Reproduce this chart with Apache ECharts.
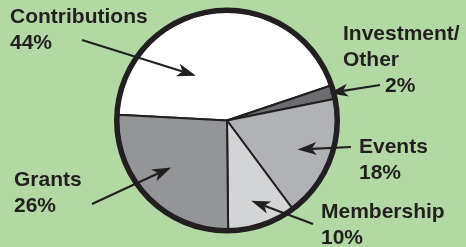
<!DOCTYPE html>
<html>
<head>
<meta charset="utf-8">
<script src="https://cdn.jsdelivr.net/npm/echarts@6/dist/echarts.min.js"></script>
<style>
  html, body { margin: 0; padding: 0; background: #b2d9a3; }
  #echarts { width: 466px; height: 247px; }
</style>
</head>
<body>
<div id="echarts"></div>
<script>
// data
var categories = ['Contributions', 'Investment/Other', 'Events', 'Membership', 'Grants'];
var percents = [44, 2, 18, 10, 26];
var sliceColors = ['#ffffff', '#6d6e71', '#b0b2b5', '#d3d4d6', '#939598'];

// layout of the callouts
var ink = '#231f20';
var cx = 227, cy = 120.5, r = 109;
var startAngle = 177;
var labelPos = [[10, 4], [343, 21], [359, 134], [321, 199], [14, 167]];
// arrow tail in px, tip as [fraction through slice, fraction of radius]
var arrowTail = [[82, 40], [380, 85], [351, 147], [313, 224], [92, 204]];
var arrowTip = [[0.33, 0.5], [0.5, 0.97], [0.52, 0.7], [0.55, 0.77], [0.54, 0.67]];

var myEChart = echarts.init(document.getElementById('echarts'));

var pieData = [];
var total = 0;
for (var i = 0; i < categories.length; i++) {
    pieData.push({ name: categories[i], value: percents[i], itemStyle: { color: sliceColors[i] } });
    total += percents[i];
}

// arrows drawn from each slice's own angle range
var graphics = [];
var acc = 0;
for (var j = 0; j < percents.length; j++) {
    var a0 = startAngle - acc / total * 360;
    var a1 = startAngle - (acc + percents[j]) / total * 360;
    acc += percents[j];
    var ang = (a0 + (a1 - a0) * arrowTip[j][0]) * Math.PI / 180;
    var rr = r * arrowTip[j][1];
    var tx = cx + rr * Math.cos(ang), ty = cy - rr * Math.sin(ang);
    var sx = arrowTail[j][0], sy = arrowTail[j][1];
    var len = Math.sqrt((tx - sx) * (tx - sx) + (ty - sy) * (ty - sy));
    var ux = (tx - sx) / len, uy = (ty - sy) / len;
    var nx = -uy, ny = ux;
    var L = 19, W = 6.5, k = 5;
    var bx = tx - L * ux, by = ty - L * uy;
    var mx = tx - (L - k) * ux, my = ty - (L - k) * uy;
    graphics.push({
        type: 'line', z: 100, silent: true,
        shape: { x1: sx, y1: sy, x2: mx, y2: my },
        style: { stroke: ink, lineWidth: 2.2 }
    });
    graphics.push({
        type: 'polygon', z: 100, silent: true,
        shape: { points: [[tx, ty], [bx + W * nx, by + W * ny], [mx, my], [bx - W * nx, by - W * ny]] },
        style: { fill: ink }
    });
}

var chartOption = {
    backgroundColor: '#b2d9a3',
    animation: false,
    graphic: graphics,
    series: [
        {
            type: 'pie',
            center: [cx, cy],
            radius: r,
            startAngle: startAngle,
            clockwise: true,
            avoidLabelOverlap: false,
            silent: true,
            itemStyle: { borderColor: ink, borderWidth: 2 },
            label: {
                show: true,
                position: 'outside',
                color: ink,
                fontFamily: 'Liberation Sans, Arial, sans-serif',
                fontWeight: 'bold',
                fontSize: 21,
                lineHeight: 26,
                formatter: function (p) {
                    if (p.name.indexOf('/') >= 0) {
                        return p.name.replace('/', '/\n') + '\n{ind|' + p.value + '%}';
                    }
                    return p.name + '\n' + p.value + '%';
                },
                rich: {
                    ind: {
                        color: ink, fontFamily: 'Liberation Sans, Arial, sans-serif',
                        fontWeight: 'bold', fontSize: 21, lineHeight: 26, padding: [0, 0, 0, 42]
                    }
                }
            },
            labelLine: { show: false },
            labelLayout: function (params) {
                var p = labelPos[params.dataIndex];
                return { x: p[0], y: p[1], align: 'left', verticalAlign: 'top' };
            },
            data: pieData
        },
        {
            type: 'pie',
            center: [cx, cy],
            radius: [r - 1.5, r + 4],
            silent: true,
            label: { show: false },
            labelLine: { show: false },
            itemStyle: { color: ink },
            data: [{ value: 1, name: 'ring' }]
        }
    ]
};

myEChart.setOption(chartOption);
</script>
</body>
</html>
